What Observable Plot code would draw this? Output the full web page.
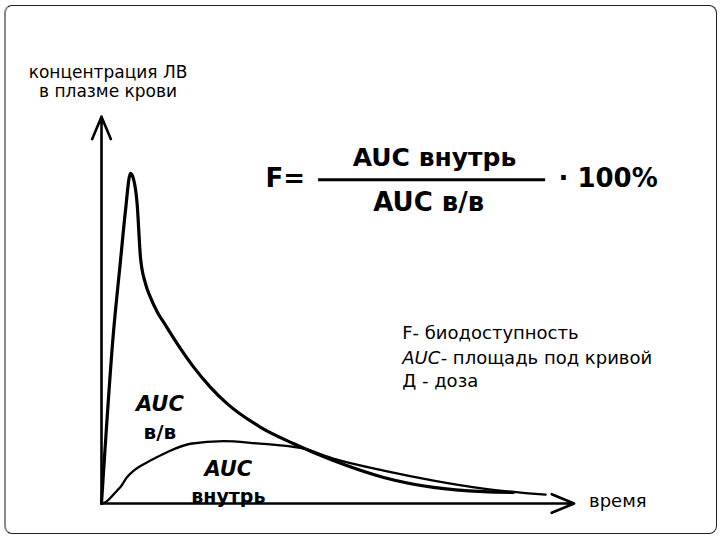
<!DOCTYPE html>
<html>
<head>
<meta charset="utf-8">
<script src="https://cdn.jsdelivr.net/npm/d3@7"></script>
<script src="https://cdn.jsdelivr.net/npm/@observablehq/plot@0.6"></script>
<style>
  html, body { margin: 0; padding: 0; background: #fff; }
  #wrap { position: relative; width: 720px; height: 540px; overflow: hidden; }
  #frame { position: absolute; left: 4px; top: 5px; width: 713px; height: 529px; box-sizing: border-box;
           border: 1.5px solid #222; border-left: 2px solid #888; border-radius: 8px; pointer-events: none; }
  svg { overflow: visible; }
</style>
</head>
<body>
<div id="wrap"><div id="frame"></div></div>
<script>
// Intravenous (в/в) curve: time vs concentration
const ivTime = [0, 2.5, 4.0, 5.05, 6.1, 6.7, 7.5, 8.21, 9.26, 10.3, 11.8, 13.5, 15.9, 19.4, 22.9, 26.5, 33.5, 40.5, 48.8, 59.4, 69.9, 80.4, 86.7];
const ivConc = [0, 44.4, 63.4, 76.5, 86.2, 84.9, 78.3, 64.2, 57.4, 53.8, 49.9, 46.5, 41.8, 35.6, 30.4, 26.0, 19.9, 15.6, 11.2, 6.8, 4.2, 3.1, 2.9];
// Oral (внутрь) curve
const oralTime = [0, 0.84, 3.3, 4.0, 5.4, 6.8, 10.3, 13.8, 18.7, 25.7, 32.8, 38.4, 42.6, 48.8, 59.4, 69.9, 80.4, 93.5];
const oralConc = [0, 0.34, 3.4, 4.3, 6.9, 8.6, 11.2, 13.4, 15.6, 16.3, 15.7, 15.1, 14.3, 11.7, 8.6, 6.0, 3.9, 2.3];
// Axis extents
const timeMax = 99.5;
const concMax = 101;
// Texts
const yLabel = ["концентрация ЛВ", "в плазме крови"];
const xLabel = "время";
const formulaLeft = "F=";
const formulaNum = "AUC внутрь";
const formulaDen = "AUC в/в";
const formulaRight = "· 100%";
const legendLines = ["F- биодоступность", "- площадь под кривой", "Д - доза"];
const legendAUC = "AUC";
const ivLabel = ["AUC", "в/в"];
const oralLabel = ["AUC", "внутрь"];

const iv = ivTime.map((t, i) => ({t, c: ivConc[i]}));
const oral = oralTime.map((t, i) => ({t, c: oralConc[i]}));
const axes = [
  {x1: 0, y1: 0, x2: 0, y2: concMax},
  {x1: 0, y1: 0, x2: timeMax, y2: 0}
];

const F = "DejaVu Sans, Verdana, sans-serif";
const T = (txt, x, y, o = {}) => Plot.text([txt], {x: () => x, y: () => y, text: d => d, fontFamily: F, fill: "#000", ...o});

const chart = Plot.plot({
  width: 720,
  height: 540,
  marginLeft: 101,
  marginRight: 144,
  marginTop: 120,
  marginBottom: 37,
  x: {domain: [0, 100], axis: null},
  y: {domain: [0, 100], axis: null},
  style: {background: "transparent"},
  marks: [
    Plot.arrow(axes, {x1: "x1", y1: "y1", x2: "x2", y2: "y2", stroke: "#000", strokeWidth: 2.6, headLength: 14, headAngle: 45}),
    Plot.line(oral, {x: "t", y: "c", stroke: "#000", strokeWidth: 2.3, curve: "monotone-x"}),
    Plot.line(iv, {x: "t", y: "c", stroke: "#000", strokeWidth: 3.2, curve: "monotone-x"}),
    // axis labels
    T(yLabel[0], 1.37, 112.4, {fontSize: 17}),
    T(yLabel[1], 1.37, 107.5, {fontSize: 17}),
    T(xLabel, 108.7, 0.7, {fontSize: 18}),
    // formula
    T(formulaLeft, 34.5, 84.7, {fontSize: 26, fontWeight: "bold", textAnchor: "start"}),
    T(formulaNum, 70.1, 90.3, {fontSize: 25, fontWeight: "bold"}),
    Plot.ruleY([84.5], {x1: 45.7, x2: 93.5, stroke: "#000", strokeWidth: 3}),
    T(formulaDen, 68.9, 78.5, {fontSize: 26, fontWeight: "bold"}),
    T(formulaRight, 96.2, 84.7, {fontSize: 26, fontWeight: "bold", textAnchor: "start"}),
    // legend
    T(legendLines[0], 63.3, 44.5, {fontSize: 18, textAnchor: "start"}),
    T(legendAUC, 63.3, 38.0, {fontSize: 18, textAnchor: "start", fontStyle: "italic"}),
    T(legendLines[1], 71.4, 38.0, {fontSize: 18, textAnchor: "start"}),
    T(legendLines[2], 63.3, 31.8, {fontSize: 18, textAnchor: "start"}),
    // area labels
    T(ivLabel[0], 12.3, 26.0, {fontSize: 21, fontWeight: "bold", fontStyle: "italic"}),
    T(ivLabel[1], 12.3, 18.5, {fontSize: 20, fontWeight: "bold"}),
    T(oralLabel[0], 26.7, 9.0, {fontSize: 21, fontWeight: "bold", fontStyle: "italic"}),
    T(oralLabel[1], 26.7, 1.7, {fontSize: 19, fontWeight: "bold"})
  ]
});
document.getElementById("wrap").appendChild(chart);
</script>
</body>
</html>
